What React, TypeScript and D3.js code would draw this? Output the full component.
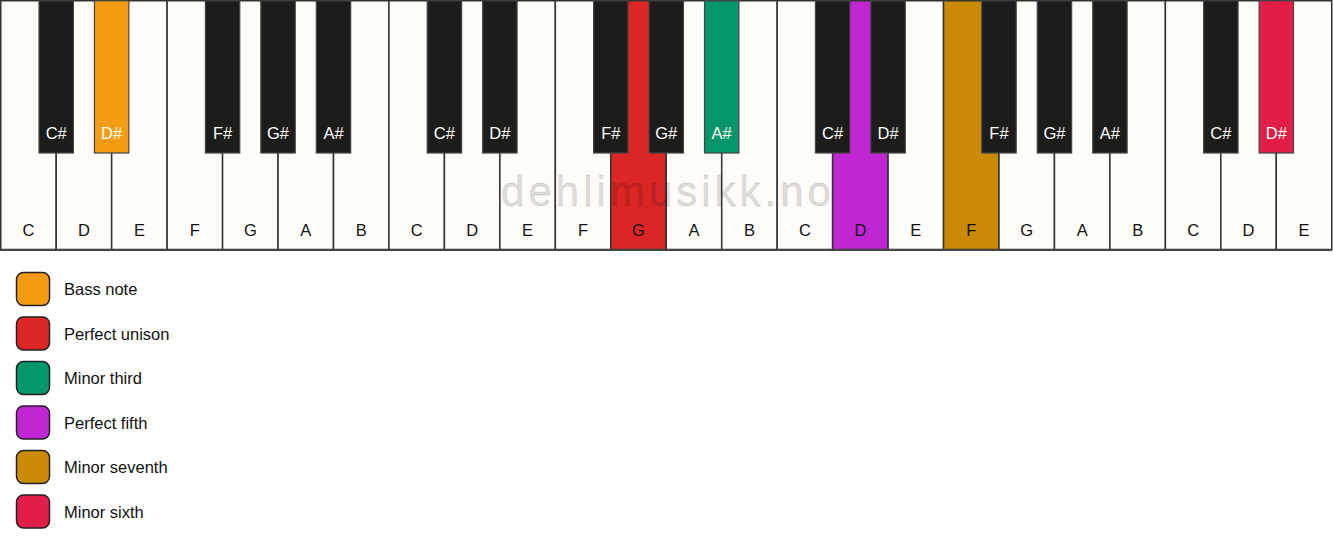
import React from "react";
import * as d3 from "d3";

const WIDTH = 1333;
const HEIGHT = 550;

// Keyboard content
const whiteNoteNames = ["C", "D", "E", "F", "G", "A", "B"];
const octaveCount = 3;
const extraWhiteNotes = ["C", "D", "E"];
const sharpAfter = ["C", "D", "F", "G", "A"];

// Highlighted keys: note name, octave index, interval category
const highlightNotes = ["D#", "G", "A#", "D", "F", "D#"];
const highlightOctaves = [0, 1, 1, 2, 2, 3];
const highlightIntervals = ["Bass note", "Perfect unison", "Minor third", "Perfect fifth", "Minor seventh", "Minor sixth"];

// Legend
const legendLabels = ["Bass note", "Perfect unison", "Minor third", "Perfect fifth", "Minor seventh", "Minor sixth"];
const legendColors = ["#F39C12", "#DC2626", "#059669", "#C026D3", "#CA8A04", "#E11D48"];

const watermark = "dehlimusikk.no";

type Key = { name: string; octave: number; index: number };

const whiteKeys: Key[] = [];
for (let o = 0; o < octaveCount; o++) {
  whiteNoteNames.forEach((n) => whiteKeys.push({ name: n, octave: o, index: whiteKeys.length }));
}
extraWhiteNotes.forEach((n) => whiteKeys.push({ name: n, octave: octaveCount, index: whiteKeys.length }));

const blackKeys: Key[] = whiteKeys
  .filter((k, i) => sharpAfter.includes(k.name) && i < whiteKeys.length - 1)
  .map((k) => ({ name: k.name + "#", octave: k.octave, index: k.index + 1 }));

const colorScale = d3.scaleOrdinal<string, string>().domain(legendLabels).range(legendColors);

function highlightColor(k: Key): string | null {
  for (let i = 0; i < highlightNotes.length; i++) {
    if (highlightNotes[i] === k.name && highlightOctaves[i] === k.octave) {
      return colorScale(highlightIntervals[i]);
    }
  }
  return null;
}

export default function App() {
  React.useEffect(() => {
    document.body.style.margin = "0";
  }, []);

  const x = d3.scaleLinear().domain([0, whiteKeys.length]).range([0.75, WIDTH - 1.25]);
  const kbTop = 0.75;
  const kbBottom = 249.5;
  const whiteW = x(1) - x(0);
  const blackW = whiteW * 0.62;
  const blackBottom = 153;

  const legendY = d3.scaleLinear().domain([0, 1]).range([289, 289 + 44.5]);

  const font = "'Liberation Sans', Arial, sans-serif";
  const fs = 16.5;

  return (
    <svg width={WIDTH} height={HEIGHT} style={{ display: "block", position: "absolute", left: 0, top: 0 }} fontFamily={font}>
      <rect x={0} y={0} width={WIDTH} height={HEIGHT} fill="#ffffff" />
      {/* white keys */}
      {whiteKeys.map((k) => {
        const c = highlightColor(k);
        return (
          <rect
            key={"w" + k.index}
            x={x(k.index)}
            y={kbTop}
            width={whiteW}
            height={kbBottom - kbTop}
            fill={c ?? "#FDFCF8"}
            stroke="#333"
            strokeWidth={1.5}
          />
        );
      })}
      {whiteKeys.map((k) => (
        <text
          key={"wl" + k.index}
          x={x(k.index) + whiteW / 2}
          y={236}
          textAnchor="middle"
          fontSize={fs}
          fill="#111"
        >
          {k.name}
        </text>
      ))}
      {/* watermark */}
      <text
        x={668}
        y={206}
        textAnchor="middle"
        fontSize={42}
        fill="#000"
        fillOpacity={0.12}
        stroke="#000"
        strokeOpacity={0.12}
        strokeWidth={0.8}
        letterSpacing={4}
        style={{ paintOrder: "stroke" }}
      >
        {watermark}
      </text>
      {/* black keys */}
      {blackKeys.map((k) => {
        const c = highlightColor(k);
        const cx = x(k.index);
        return (
          <g key={"b" + k.index}>
            <rect
              x={cx - blackW / 2}
              y={kbTop}
              width={blackW}
              height={blackBottom - kbTop}
              fill={c ?? "#1C1C1A"}
              stroke="#444"
              strokeWidth={1.2}
            />
            <text x={cx} y={139} textAnchor="middle" fontSize={fs} fill="#fff">
              {k.name}
            </text>
          </g>
        );
      })}
      {/* bottom border */}
      <line x1={0} x2={WIDTH - 1} y1={kbBottom + 0.5} y2={kbBottom + 0.5} stroke="#444" strokeWidth={2} />
      {/* legend */}
      {legendLabels.map((l, i) => (
        <g key={"lg" + i} transform={`translate(0,${legendY(i)})`}>
          <rect x={16.5} y={-16.5} width={33} height={33} rx={7} ry={7} fill={colorScale(l)} stroke="#222" strokeWidth={1.5} />
          <text x={64} y={6} fontSize={fs} fill="#111">
            {l}
          </text>
        </g>
      ))}
    </svg>
  );
}
